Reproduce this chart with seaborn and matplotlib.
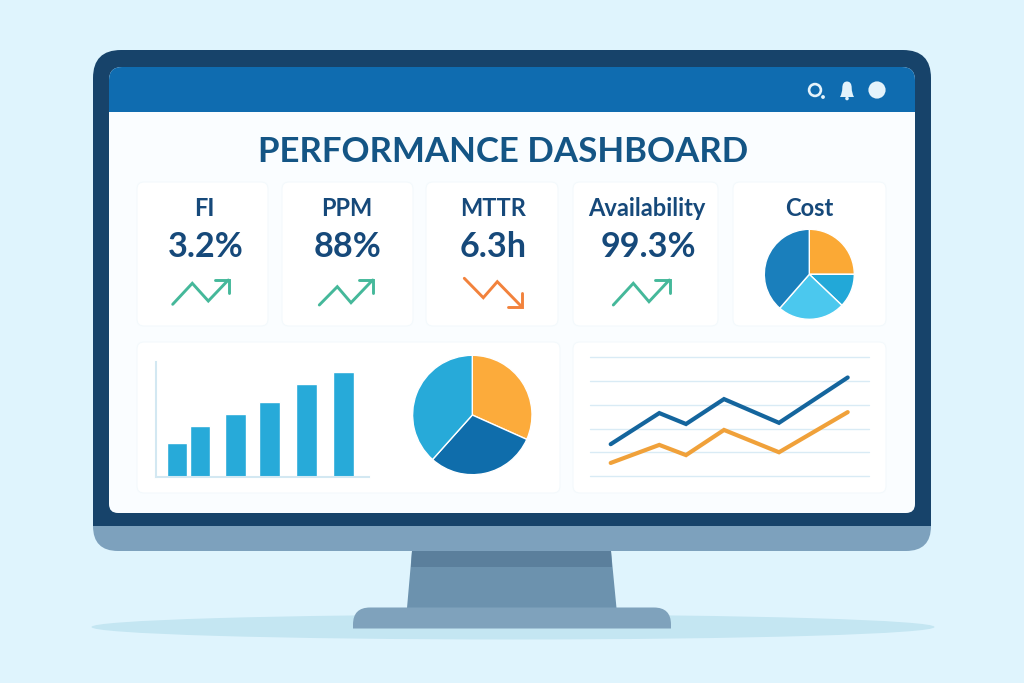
import matplotlib
matplotlib.use("Agg")
import matplotlib.pyplot as plt
import seaborn as sns
import pandas as pd
from matplotlib.path import Path
from matplotlib.patches import PathPatch, Circle, Ellipse, Polygon

# ---- data ----
title_text = "PERFORMANCE DASHBOARD"
kpi_names = ["FI", "PPM", "MTTR", "Availability"]
kpi_values = ["3.2%", "88%", "6.3h", "99.3%"]
cost_label = "Cost"
cost_shares = [25.0, 12.1, 24.3, 38.6]
bar_x = [21, 44, 79.3, 113.7, 150.3, 187.3]
bar_values = [34, 51, 63, 75, 93, 105]
pie_shares = [31.7, 29.9, 38.4]
line_x = [20.7, 69.3, 96, 134, 189, 257.7]
line_blue = [1.34, 2.65, 2.19, 3.24, 2.24, 4.15]
line_orange = [0.55, 1.31, 0.88, 1.94, 1.00, 2.69]
grid_levels = [0, 1, 2, 3, 4, 5]

W, H = 1024, 683
BG = "#dff4fd"
NAVY = "#17436a"
TEXT = "#16497a"
sns.set_theme(style="white")
plt.rcParams["font.family"] = ["Lato", "DejaVu Sans"]

fig = plt.figure(figsize=(W / 100, H / 100), dpi=100, facecolor=BG)
bg = fig.add_axes([0, 0, 1, 1])
bg.set_xlim(0, W)
bg.set_ylim(H, 0)
bg.axis("off")


def rrect(x0, y0, x1, y1, tl=0, tr=0, br=0, bl=0, **kw):
    M, L, C = Path.MOVETO, Path.LINETO, Path.CURVE3
    v = [(x0 + tl, y0), (x1 - tr, y0), (x1, y0), (x1, y0 + tr), (x1, y1 - br),
         (x1, y1), (x1 - br, y1), (x0 + bl, y1), (x0, y1), (x0, y1 - bl),
         (x0, y0 + tl), (x0, y0), (x0 + tl, y0)]
    c = [M, L, C, C, L, C, C, L, C, C, L, C, C]
    p = PathPatch(Path(v, c), lw=kw.pop("lw", 0), **kw)
    bg.add_patch(p)
    return p


def inset(x0, y0, x1, y1):
    return fig.add_axes([x0 / W, 1 - y1 / H, (x1 - x0) / W, (y1 - y0) / H])


# monitor body
bg.add_patch(Ellipse((513, 627), 843, 25, fc="#c4e6f2", ec="none"))
bg.add_patch(Polygon([(412, 551), (611, 551), (616.5, 608), (407, 608)], fc="#6c92ae", ec="none"))
bg.add_patch(Polygon([(412, 551), (611, 551), (612, 567), (411, 567)], fc="#5b7f9c", ec="none"))
rrect(353, 607.5, 671, 628.5, tl=17, tr=17, fc="#7fa2bc", ec="none")
rrect(93, 510, 931, 551, br=25, bl=25, fc="#7da1bd", ec="none")
rrect(93, 50, 931, 526, tl=28, tr=28, fc=NAVY, ec="none")
rrect(109, 67, 915, 513, tl=13, tr=13, br=9, bl=9, fc="#fafdff", ec="none")
rrect(109, 67, 915, 112, tl=13, tr=13, fc="#0f6cb0", ec="none")

# header icons
ICON = "#e4f3fb"
bg.add_patch(Circle((815, 90), 5.9, fc="none", ec=ICON, lw=1.9))
bg.add_patch(Circle((823, 97), 1.9, fc=ICON, ec="none"))
M, L, C = Path.MOVETO, Path.LINETO, Path.CURVE3
bell = Path([(840, 97), (842.3, 93), (842.3, 88), (842.3, 81.5), (847, 81.5), (851.7, 81.5),
             (851.7, 88), (851.7, 93), (854, 97), (840, 97)],
            [M, C, C, C, C, C, C, C, C, L])
bg.add_patch(PathPatch(bell, fc=ICON, ec="none"))
bg.add_patch(Circle((847, 98.5), 1.8, fc=ICON, ec="none"))
bg.add_patch(Circle((877, 90), 8.6, fc=ICON, ec="none"))

# title
bg.text(503, 162.5, title_text, ha="center", va="baseline", fontsize=25.1,
        fontweight="bold", color="#145585")

# cards
cards = [(137, 182, 268, 326), (282, 182, 413, 326), (426, 182, 558, 326),
         (573, 182, 718, 326), (733, 182, 886, 326),
         (137, 342, 560, 493), (573, 342, 886, 493)]
for x0, y0, x1, y1 in cards:
    rrect(x0, y0, x1, y1, tl=7, tr=7, br=7, bl=7, fc="#ffffff", ec="#f3f9fc", lw=0.8)

# KPI texts
name_cx = [204.5, 347, 493.5, 647]
value_cx = [205.5, 347.5, 493.5, 648]
for cxn, cxv, nm, val in zip(name_cx, value_cx, kpi_names, kpi_values):
    bg.text(cxn, 215.7, nm, ha="center", va="baseline", fontsize=17,
            fontweight="bold", color=TEXT)
    bg.text(cxv, 256.7, val, ha="center", va="baseline", fontsize=24.6,
            fontweight="bold", color=TEXT)
bg.text(809, 215.7, cost_label, ha="center", va="baseline", fontsize=17,
        fontweight="bold", color=TEXT)

# trend icons (illustration glyphs)
GREEN, ORANGE = "#45b89a", "#f2823c"
glyphs = [
    ([(172.7, 304.3), (192.3, 283.3), (208.3, 301), (228.3, 280)],
     [(215, 280), (229, 280), (229, 293.3)], GREEN),
    ([(319.3, 305), (337.3, 286.7), (351, 302.7), (372.7, 280)],
     [(359.3, 280), (373.3, 280), (373.3, 293.3)], GREEN),
    ([(464.3, 278.3), (483.3, 297.7), (497.3, 281.7), (520.7, 305.7)],
     [(508.3, 306.7), (521.7, 306.7), (521.7, 293.3)], ORANGE),
    ([(613.3, 305), (633.3, 283.3), (649, 301.7), (669.3, 280)],
     [(655, 280), (670, 280), (670, 293.3)], GREEN),
]
for shaft, head, col in glyphs:
    for pts in (shaft, head):
        bg.plot(*zip(*pts), color=col, lw=2.1, solid_capstyle="round", solid_joinstyle="miter")

# cost pie
ax = inset(809.3 - 45, 274.3 - 45, 809.3 + 45, 274.3 + 45)
ax.pie(cost_shares, colors=["#fba935", "#22a8d8", "#4bc8ee", "#1a7fbc"], startangle=90,
       counterclock=False, radius=1)
ax.set_xlim(-1, 1)
ax.set_ylim(-1, 1)
ax.patch.set_alpha(0)

# bar chart
ax = inset(156, 362, 369, 477)
ax.patch.set_alpha(0)
sns.barplot(x=bar_x, y=bar_values, native_scale=True, width=0.91, color="#27aad9",
            saturation=1, ax=ax)
ax.set_xlim(0, 213)
ax.set_ylim(0, 115)
ax.set_xticks([])
ax.set_yticks([])
for s in ("top", "right"):
    ax.spines[s].set_visible(False)
for s in ("left", "bottom"):
    ax.spines[s].set_color("#d3e8f2")
    ax.spines[s].set_linewidth(1.5)

# big pie
ax = inset(472.3 - 59.7, 415 - 59.7, 472.3 + 59.7, 415 + 59.7)
ax.pie(pie_shares, colors=["#fcab3b", "#0f6dab", "#27aad9"], startangle=90,
       counterclock=False, radius=1)
ax.set_xlim(-1, 1)
ax.set_ylim(-1, 1)
ax.patch.set_alpha(0)

# line chart
ax = inset(590, 357.3, 869, 476)
ax.patch.set_alpha(0)
df = pd.DataFrame({"x": line_x * 2, "y": line_blue + line_orange,
                   "s": ["a"] * len(line_x) + ["b"] * len(line_x)})
sns.lineplot(data=df, x="x", y="y", hue="s", palette=["#14659d", "#f0a13a"], lw=3,
             legend=False, ax=ax, solid_capstyle="round", solid_joinstyle="miter")
ax.set_xlim(0, 279)
ax.set_ylim(0, 5)
ax.set_yticks(grid_levels)
ax.set_xticks([])
ax.set_xlabel("")
ax.set_ylabel("")
ax.tick_params(left=False, labelleft=False)
ax.grid(axis="y", color="#d9ebf5", lw=1)
ax.set_axisbelow(True)
for s in ax.spines.values():
    s.set_visible(False)
for ln in ax.get_ygridlines():
    ln.set_clip_on(False)

fig.savefig("out.png", dpi=100, facecolor=BG)
